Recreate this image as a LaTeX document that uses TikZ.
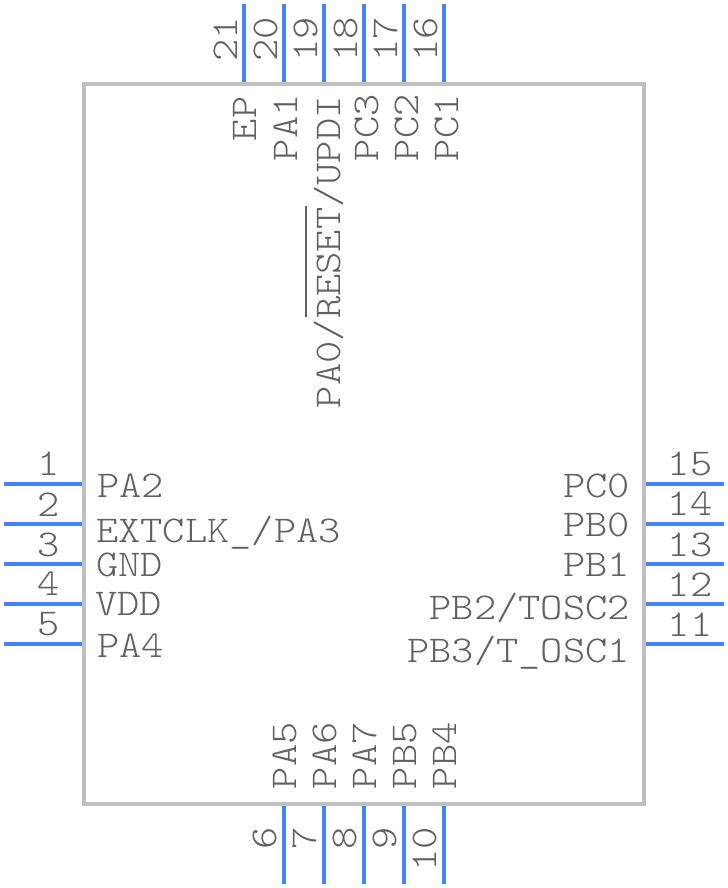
\documentclass[tikz,border=0pt]{standalone}
\usepackage{fontspec}
\setmonofont[FakeStretch=1.12]{Latin Modern Mono Light}
\definecolor{pinblue}{HTML}{4287F5}
\definecolor{bodygray}{HTML}{C0C0C0}
\definecolor{txtgray}{HTML}{606060}
\tikzset{
  pinline/.style={draw=pinblue,line width=4bp},
  bodybox/.style={draw=bodygray,line width=4bp,fill=none},
  lbl/.style={inner sep=0pt,outer sep=0pt,text=txtgray,font=\fontsize{38}{38}\selectfont\ttfamily},
  lblw/.style={lbl,anchor=base west},
  lble/.style={lbl,anchor=base east},
  lblc/.style={lbl,anchor=base},
  rw/.style={lbl,anchor=base west,rotate=90},
  re/.style={lbl,anchor=base east,rotate=90},
}
\begin{document}
\begin{tikzpicture}[x=1bp,y=-1bp]
\useasboundingbox (0,0) rectangle (728,888);
\fill[white] (0,0) rectangle (728,888);
% pins
\foreach \n/\yy in {1/484,2/524,3/564,4/604,5/644}{
  \coordinate (p\n o) at (4,\yy); \coordinate (p\n i) at (84,\yy);
  \draw[pinline] (p\n o) -- (p\n i);}
\foreach \n/\yy in {15/484,14/524,13/564,12/604,11/644}{
  \coordinate (p\n o) at (724,\yy); \coordinate (p\n i) at (644,\yy);
  \draw[pinline] (p\n o) -- (p\n i);}
\foreach \n/\xx in {21/244,20/284,19/324,18/364,17/404,16/444}{
  \coordinate (p\n o) at (\xx,4); \coordinate (p\n i) at (\xx,84);
  \draw[pinline] (p\n o) -- (p\n i);}
\foreach \n/\xx in {6/284,7/324,8/364,9/404,10/444}{
  \coordinate (p\n o) at (\xx,884); \coordinate (p\n i) at (\xx,804);
  \draw[pinline] (p\n o) -- (p\n i);}
% body
\coordinate (bodyA) at (84,84);
\coordinate (bodyB) at (644,804);
\draw[bodybox] (bodyA) rectangle (bodyB);
% left numbers
\node[lblc] (n1) at (49,475) {1};
\node[lblc] (n2) at (49,516) {2};
\node[lblc] (n3) at (49,556) {3};
\node[lblc] (n4) at (49,595) {4};
\node[lblc] (n5) at (49,635) {5};
% right numbers
\node[lblc] (n15) at (690,475) {15};
\node[lblc] (n14) at (690,515) {14};
\node[lblc] (n13) at (690,556) {13};
\node[lblc] (n12) at (690,596) {12};
\node[lblc] (n11) at (690,636) {11};
% left labels
\node[lblw] (l1) at (97,497) {PA2};
\node[lblw] (l2) at (96,542) {EXTCLK\_/PA3};
\node[lblw] (l3) at (96,576) {GND};
\node[lblw] (l4) at (95,615) {VDD};
\node[lblw] (l5) at (97,657) {PA4};
% right labels
\node[lble] (l15) at (630,497) {PC0};
\node[lble] (l14) at (630,536) {PB0};
\node[lble] (l13) at (630,576) {PB1};
\node[lble] (l12) at (630,619) {PB2/TOSC2};
\node[lble] (l11) at (630,662) {PB3/T\_OSC1};
% top numbers
\node[re] (n21) at (237,17) {21};
\node[re] (n20) at (277,17) {20};
\node[re] (n19) at (317,17) {19};
\node[re] (n18) at (357,17) {18};
\node[re] (n17) at (397,17) {17};
\node[re] (n16) at (437,17) {16};
% top labels
\node[rw] (l21) at (256,141) {EP};
\node[rw] (l20) at (297,161) {PA1};
\node[rw] (l19) at (340,408) {PA0/RESET/UPDI};
\node[rw] (l18) at (378,161) {PC3};
\node[rw] (l17) at (418,161) {PC2};
\node[rw] (l16) at (458,161) {PC1};
\coordinate (barA) at (306,206);
\coordinate (barB) at (306,317);
\draw[txtgray,line width=2bp] (barA) -- (barB);
% bottom labels
\node[rw] (l6) at (296,789) {PA5};
\node[rw] (l7) at (336,789) {PA6};
\node[rw] (l8) at (376,789) {PA7};
\node[rw] (l9) at (416,789) {PB5};
\node[rw] (l10) at (456,789) {PB4};
% bottom numbers
\node[re] (n6) at (276,827) {6};
\node[re] (n7) at (316,827) {7};
\node[re] (n8) at (356,827) {8};
\node[re] (n9) at (396,827) {9};
\node[re] (n10) at (436,827) {10};
\end{tikzpicture}
\end{document}
